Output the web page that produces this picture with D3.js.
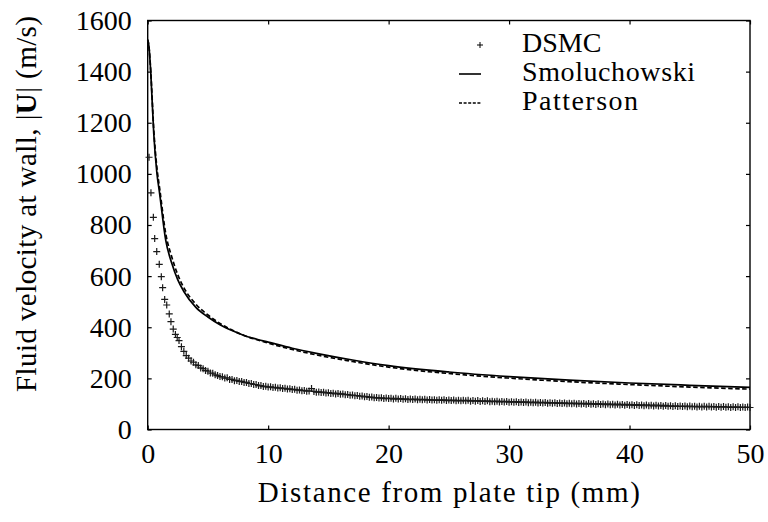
<!DOCTYPE html>
<html>
<head>
<meta charset="utf-8">
<script src="https://cdn.jsdelivr.net/npm/d3@7"></script>
<style>
  body { margin: 0; background: #fff; }
  text { font-family: "Liberation Serif", "DejaVu Serif", serif; fill: #000; }
</style>
</head>
<body>
<svg width="768" height="522"></svg>
<script>
// tick values
var xTicks = [0, 10, 20, 30, 40, 50];
var yTicks = [0, 200, 400, 600, 800, 1000, 1200, 1400, 1600];

// Smoluchowski slip velocity
var smolX = [0, 0.1, 0.25, 0.5, 0.75, 1, 1.5, 2, 2.5, 3, 4, 5, 6, 7, 8, 9, 10, 12, 14, 17, 20, 25, 30, 35, 40, 45, 50];
var smolU = [1525, 1500, 1400, 1160, 1010, 920, 740, 650, 585, 540, 478, 440, 410, 387, 368, 354, 342, 318, 298, 272, 250, 225, 207, 193, 182, 173, 165];

// Patterson slip velocity
var pattX = [0, 0.1, 0.25, 0.5, 0.75, 1, 1.5, 2, 2.5, 3, 4, 5, 6, 7, 8, 9, 10, 12, 14, 17, 20, 25, 30, 35, 40, 45, 50];
var pattU = [1525, 1500, 1405, 1175, 1030, 940, 765, 675, 605, 555, 490, 448, 415, 389, 368, 352, 338, 313, 292, 266, 244, 219, 201, 187, 176, 166, 158];

// DSMC, first sparse points near the tip
var dsmcEarlyX = [0.11, 0.27, 0.47, 0.58, 0.75, 0.96, 1.13, 1.24, 1.41, 1.58, 1.79, 1.93, 2.12, 2.3, 2.45];
var dsmcEarlyU = [1065, 926, 830, 747, 696, 646, 598, 555, 509, 487, 452, 422, 393, 372, 360];

// DSMC, dense cells from 2.6 mm every 0.2 mm
var dsmcStart = 2.6, dsmcStep = 0.2;
var dsmcU = [
  348, 324, 306, 289, 279, 268, 263, 253, 250, 241,
  238, 231, 228, 221, 220, 214, 211, 207, 206, 201,
  202, 196, 196, 191, 192, 188, 188, 184, 184, 180,
  180, 176, 176, 172, 172, 168, 169, 166, 167, 164,
  165, 162, 163, 160, 161, 158, 159, 156, 157, 154,
  155, 152, 153, 150, 151, 160, 149, 146, 147, 145,
  146, 143, 144, 141, 142, 139, 141, 138, 139, 136,
  137, 134, 135, 132, 133, 130, 131, 128, 129, 126,
  127, 124, 125, 123, 124, 121, 123, 121, 122, 119,
  122, 119, 121, 118, 120, 117, 119, 117, 119, 116,
  118, 116, 118, 115, 117, 115, 116, 114, 116, 114,
  116, 113, 115, 113, 115, 112, 114, 112, 114, 112,
  114, 111, 113, 111, 113, 110, 112, 110, 112, 109,
  111, 109, 111, 108, 110, 108, 110, 107, 109, 107,
  109, 106, 108, 106, 108, 105, 107, 105, 107, 104,
  106, 104, 106, 103, 105, 103, 105, 102, 104, 102,
  104, 101, 103, 101, 103, 100, 102, 100, 102, 99,
  102, 99, 101, 98, 101, 98, 100, 97, 100, 97,
  99, 96, 99, 96, 98, 95, 98, 95, 97, 94,
  97, 94, 96, 93, 96, 93, 95, 92, 95, 92,
  94, 91, 94, 91, 93, 90, 93, 90, 92, 90,
  92, 89, 92, 89, 91, 88, 91, 88, 91, 88,
  91, 88, 90, 87, 90, 87, 90, 87, 89, 86,
  89, 86, 89, 86, 88, 86, 88, 86
];

var legendNames = ["DSMC", "Smoluchowski", "Patterson"];

var svg = d3.select("svg"),
    mLeft = 147.7, mRight = 750, mTop = 20.5, mBottom = 429.5;

var x = d3.scaleLinear().domain([0, 50]).range([mLeft, mRight]);
var y = d3.scaleLinear().domain([0, 1600]).range([mBottom, mTop]);

// axes, ticks pointing inward, mirrored on top and right
svg.append("g").attr("transform", "translate(0," + mBottom + ")")
  .call(d3.axisBottom(x).tickValues(xTicks).tickFormat(d3.format("d")).tickSizeInner(-4).tickSizeOuter(0).tickPadding(14));
svg.append("g").attr("transform", "translate(0," + mTop + ")")
  .call(d3.axisTop(x).tickValues(xTicks).tickSizeInner(-4).tickSizeOuter(0).tickFormat(""));
svg.append("g").attr("transform", "translate(" + mLeft + ",0)")
  .call(d3.axisLeft(y).tickValues(yTicks).tickFormat(d3.format("d")).tickSizeInner(-4).tickSizeOuter(0).tickPadding(16));
svg.append("g").attr("transform", "translate(" + mRight + ",0)")
  .call(d3.axisRight(y).tickValues(yTicks).tickSizeInner(-4).tickSizeOuter(0).tickFormat(""));

svg.selectAll(".domain").remove();
svg.selectAll(".tick line").attr("stroke", "#000").attr("stroke-width", 1.2);
svg.selectAll(".tick text").style("font-family", "'Liberation Serif', serif").style("font-size", "28px").attr("fill", "#000");

svg.append("rect")
  .attr("x", mLeft).attr("y", mTop)
  .attr("width", mRight - mLeft).attr("height", mBottom - mTop)
  .attr("fill", "none").attr("stroke", "#000").attr("stroke-width", 1.4);

// DSMC plus markers
var dsmc = dsmcEarlyX.map(function(d, i) { return [d, dsmcEarlyU[i]]; })
  .concat(dsmcU.map(function(d, i) { return [dsmcStart + i * dsmcStep, d]; }));

svg.append("g").selectAll("path")
  .data(dsmc).enter().append("path")
  .attr("d", function(d) {
    var px = x(d[0]), py = y(d[1]);
    return "M" + (px - 3.5) + "," + py + "h7M" + px + "," + (py - 3.5) + "v7";
  })
  .attr("stroke", "#1a1a1a").attr("stroke-width", 1.2).attr("fill", "none");

var line = d3.line().curve(d3.curveMonotoneX);

svg.append("path")
  .attr("d", line(smolX.map(function(d, i) { return [x(d), y(smolU[i])]; })))
  .attr("fill", "none").attr("stroke", "#000").attr("stroke-width", 1.7);

svg.append("path")
  .attr("d", line(pattX.map(function(d, i) { return [x(d), y(pattU[i])]; })))
  .attr("fill", "none").attr("stroke", "#000").attr("stroke-width", 1.7)
  .attr("stroke-dasharray", "4.5,2.5");

// legend
var lg = svg.append("g");
var legendWidths = [null, 173, 116];
legendNames.forEach(function(name, i) {
  var ty = 52 + i * 29;
  var t = lg.append("text").attr("x", 522).attr("y", ty).style("font-size", "28px").text(name);
  if (legendWidths[i]) t.attr("textLength", legendWidths[i]).attr("lengthAdjust", "spacing");
  var my = ty - 7;
  if (i === 0) {
    lg.append("path").attr("d", "M477," + my + "h6M480," + (my - 3) + "v6")
      .attr("stroke", "#000").attr("stroke-width", 1);
  } else {
    lg.append("line").attr("x1", 459).attr("x2", 481).attr("y1", my).attr("y2", my)
      .attr("stroke", "#000").attr("stroke-width", 1.6)
      .attr("stroke-dasharray", i === 2 ? "3,1.6" : null);
  }
});

// axis titles
svg.append("text")
  .attr("x", (mLeft + mRight) / 2).attr("y", 502)
  .attr("text-anchor", "middle").style("font-size", "29px")
  .attr("textLength", 382).attr("lengthAdjust", "spacing")
  .text("Distance from plate tip (mm)");

var yt = svg.append("text")
  .attr("transform", "translate(36,204) rotate(-90)")
  .attr("text-anchor", "middle").style("font-size", "29px")
  .attr("textLength", 376).attr("lengthAdjust", "spacing");
yt.append("tspan").text("Fluid velocity at wall, |");
yt.append("tspan").style("font-weight", "bold").text("U");
yt.append("tspan").text("| (m/s)");
</script>
</body>
</html>
